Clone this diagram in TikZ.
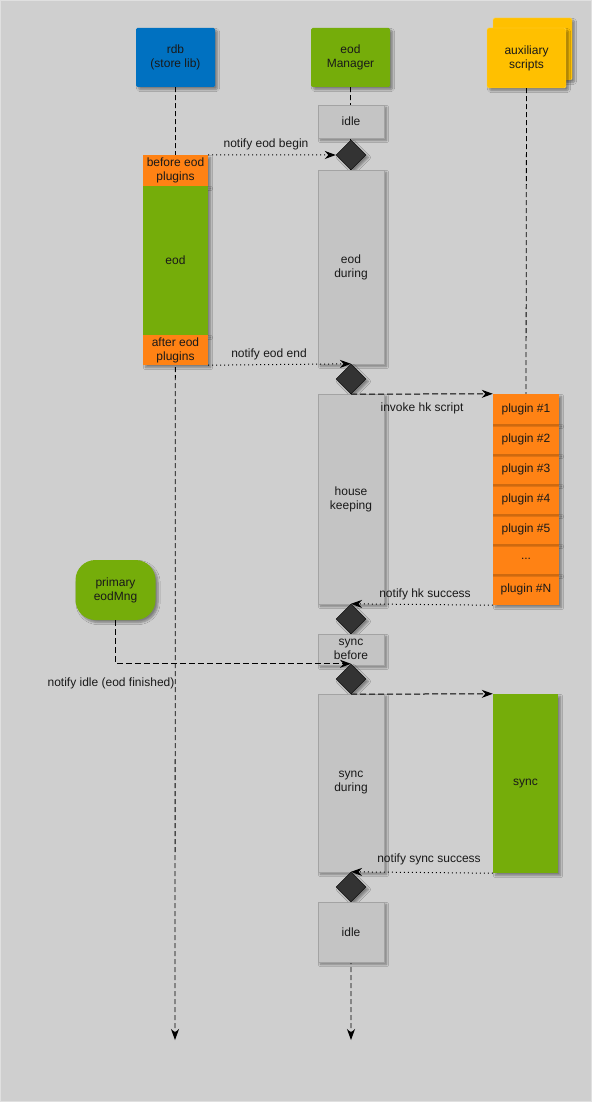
\documentclass[tikz,border=0pt]{standalone}
\usepackage{fontspec}
\setmainfont{Liberation Sans}
\usetikzlibrary{shapes.geometric,arrows.meta,shadows.blur}

\definecolor{canvas}{HTML}{CFCFCF}
\definecolor{rdbblue}{HTML}{0071C1}
\definecolor{leaf}{HTML}{75AD0A}
\definecolor{amber}{HTML}{FF8214}
\definecolor{gold}{HTML}{FFC000}
\definecolor{goldedge}{HTML}{FFD54A}
\definecolor{statefill}{HTML}{C4C4C4}
\definecolor{stateedge}{HTML}{A3A3A3}
\definecolor{knot}{HTML}{333333}

\tikzset{
  txt/.style={font=\fontsize{12}{14}\selectfont, text=black!90, align=center},
  shade/.style={blur shadow={shadow xshift=2.5pt, shadow yshift=-2.5pt, shadow opacity=40, shadow blur steps=6}},
  actor/.style={txt, shade, rectangle, rounded corners=1.5pt, minimum width=79pt, minimum height=59pt, inner sep=0pt},
  state/.style={txt, shade, rectangle, fill=statefill, draw=stateedge, line width=0.8pt, minimum width=66pt, inner sep=0pt},
  block/.style={txt, shade, rectangle, minimum width=65pt, inner sep=0pt},
  plugbox/.style={block, fill=amber, minimum width=66pt, minimum height=30pt},
  seam/.style={path picture={
      \fill[black, opacity=0.12] (path picture bounding box.north west) rectangle ([yshift=-3pt]path picture bounding box.north east);
      \fill[black, opacity=0.08] (path picture bounding box.north west) rectangle ([yshift=-1.5pt]path picture bounding box.north east);}},
  knotmark/.style={diamond, shade, fill=knot, draw=black, line width=0.4pt, minimum width=30pt, minimum height=30pt, inner sep=0pt},
  life/.style={draw=black, line width=0.8pt, dash pattern=on 5pt off 3pt},
  tip/.style={-{Stealth[length=11pt, width=8pt, inset=3.5pt]}},
  msgdot/.style={draw=black, line width=1pt, dash pattern=on 1pt off 3pt, tip},
  msgdash/.style={draw=black, line width=1pt, dash pattern=on 6pt off 3pt, tip},
  msglabel/.style={txt, inner sep=0pt},
}

\begin{document}
\begin{tikzpicture}[x=1pt, y=-1pt]
  % canvas
  \fill[canvas] (0,0) rectangle (592,1102);
  \draw[white!88!black, line width=1pt] (0.5,0.5) rectangle (591.5,1101.5);
  \useasboundingbox (0,0) rectangle (592,1102);

  % lifeline heads
  \node[actor, fill=rdbblue] (rdb) at (175.5,57.5) {rdb\\(store lib)};
  \node[actor, fill=leaf] (mgr) at (350.5,57.5) {eod\\Manager};
  \node[actor, fill=gold, draw=goldedge, minimum height=62pt] (auxback) at (532.5,49) {};
  \node[actor, fill=gold, draw=goldedge, minimum height=60pt] (aux) at (526.5,58) {auxiliary\\scripts};

  \coordinate (rdbend) at (175,1040);
  \coordinate (mgrend) at (351,1040);

  % lifelines, drawn first so the activity boxes cover them
  \draw[life, tip] (rdb.south) -- (rdbend);
  \draw[life, tip] (mgr.south) -- (mgrend);

  % rdb activity
  \node[block, fill=amber, minimum height=31pt] (before) at (175.5,170.5) {before eod\\plugins};
  \node[block, fill=leaf, minimum height=149pt] (eod) at (175.5,260.5) {eod};
  \node[block, fill=amber, minimum height=30pt] (after) at (175.5,350) {after eod\\plugins};

  % manager states
  \node[state, minimum height=33pt] (idleA) at (351,121.5) {idle};
  \node[knotmark] (k1) at (351,155) {};
  \node[state, minimum height=194pt] (during) at (351,267) {eod\\during};
  \node[knotmark] (k2) at (351,379) {};
  \node[state, minimum height=210pt] (hk) at (351,499) {house\\keeping};
  \node[knotmark] (k3) at (351,619) {};
  \node[state, minimum height=31pt] (syncb) at (351,649.5) {sync\\before};
  \node[knotmark] (k4) at (351,679) {};
  \node[state, minimum height=178pt] (syncd) at (351,783) {sync\\during};
  \node[knotmark] (k5) at (351,887) {};
  \node[state, minimum height=60pt] (idleB) at (351,932) {idle};

  % housekeeping plugins
  \node[plugbox] (p1) at (526,409) {plugin \#1};
  \node[plugbox, seam] (p2) at (526,439) {plugin \#2};
  \node[plugbox, seam] (p3) at (526,469) {plugin \#3};
  \node[plugbox, seam] (p4) at (526,499) {plugin \#4};
  \node[plugbox, seam] (p5) at (526,529) {plugin \#5};
  \node[plugbox, seam] (pd) at (526,559) {...};
  \node[plugbox, seam, minimum height=31pt] (pN) at (526,589.5) {plugin \#N};

  \draw[life] (aux.south) -- (p1.north);

  % synchronisation
  \node[block, fill=leaf, minimum height=179pt] (sync) at (525.5,783.5) {sync};
  \node[txt, shade, fill=leaf, rounded corners=20pt, minimum width=80pt, minimum height=60pt, inner sep=0pt] (primary) at (115.5,590) {primary\\eodMng};

  % messages
  \draw[msgdot] (before.north east) -- (k1.west);
  \node[msglabel] (lbegin) at (266,144) {notify eod begin};

  \draw[msgdot] (after.south east) -- (k2.north);
  \node[msglabel] (lend) at (269,354) {notify eod end};

  \draw[msgdash] (k2.south) -- (p1.north west);
  \node[msglabel] (linvoke) at (422,408) {invoke hk script};

  \draw[msgdot] (pN.south west) -- (k3.north);
  \node[msglabel] (lhk) at (425,594) {notify hk success};

  \draw[msgdash] (primary.south) |- (k4.north);
  \node[msglabel] (lidle) at (111,683) {notify idle (eod finished)};

  \draw[msgdash] (k4.south) -- (sync.north west);

  \draw[msgdot] (sync.south west) -- (k5.north);
  \node[msglabel] (lsync) at (429,859) {notify sync success};
\end{tikzpicture}
\end{document}
